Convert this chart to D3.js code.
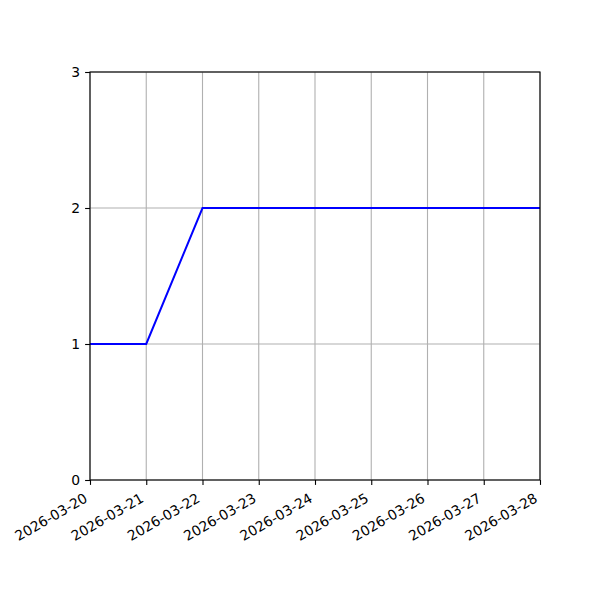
<!DOCTYPE html>
<html>
<head>
<meta charset="utf-8">
<script src="https://cdn.jsdelivr.net/npm/d3@7"></script>
<style>
  body { margin: 0; background: #fff; }
  svg { font-family: "DejaVu Sans", sans-serif; }
</style>
</head>
<body>
<div id="chart"></div>
<script>
// data
const dates = ["2026-03-20", "2026-03-21", "2026-03-22", "2026-03-23", "2026-03-24",
               "2026-03-25", "2026-03-26", "2026-03-27", "2026-03-28"];
const values = [1, 1, 2, 2, 2, 2, 2, 2, 2];
const yTicks = [0, 1, 2, 3];

const parse = d3.timeParse("%Y-%m-%d");
const fmt = d3.timeFormat("%Y-%m-%d");

const margin = {top: 72, right: 60, bottom: 120, left: 90};
const width = 600 - margin.left - margin.right;
const height = 600 - margin.top - margin.bottom;

const svg = d3.select("#chart")
    .append("svg")
    .attr("width", 600)
    .attr("height", 600)
    .append("g")
    .attr("transform", `translate(${margin.left},${margin.top})`);

const points = dates.map((d, i) => ({date: parse(d), value: values[i]}));

const xScale = d3.scaleTime()
    .domain(d3.extent(points, d => d.date))
    .range([0, width]);

const yScale = d3.scaleLinear()
    .domain([0, 3])
    .range([height, 0]);

// grid
svg.append("g")
    .selectAll("line")
    .data(points)
    .enter()
    .append("line")
    .attr("x1", d => xScale(d.date))
    .attr("x2", d => xScale(d.date))
    .attr("y1", 0)
    .attr("y2", height)
    .style("stroke", "#b0b0b0")
    .style("stroke-width", 1.1);

svg.append("g")
    .selectAll("line")
    .data(yTicks)
    .enter()
    .append("line")
    .attr("x1", 0)
    .attr("x2", width)
    .attr("y1", d => yScale(d))
    .attr("y2", d => yScale(d))
    .style("stroke", "#b0b0b0")
    .style("stroke-width", 1.1);

// line
const line = d3.line()
    .x(d => xScale(d.date))
    .y(d => yScale(d.value));

svg.append("path")
    .datum(points)
    .attr("d", line)
    .style("fill", "none")
    .style("stroke", "blue")
    .style("stroke-width", 2);

// frame
svg.append("rect")
    .attr("width", width)
    .attr("height", height)
    .style("fill", "none")
    .style("stroke", "#000")
    .style("stroke-width", 1.1);

// axes
const xAxis = svg.append("g")
    .attr("transform", `translate(0,${height})`)
    .call(d3.axisBottom(xScale)
        .tickValues(points.map(d => d.date))
        .tickFormat(fmt)
        .tickSize(4.9)
        .tickPadding(4.9));

xAxis.selectAll(".tick line").style("stroke-width", 1.1);

xAxis.selectAll("text")
    .style("font-size", "13.9px")
    .style("font-family", "DejaVu Sans")
    .attr("text-anchor", "end")
    .attr("x", 0)
    .attr("y", 0)
    .attr("dy", 0)
    .attr("transform", "translate(-2,21) rotate(-30)");

const yAxis = svg.append("g")
    .call(d3.axisLeft(yScale)
        .tickValues(yTicks)
        .tickFormat(d3.format("d"))
        .tickSize(4.9)
        .tickPadding(4.9));

yAxis.selectAll(".tick line").style("stroke-width", 1.1);

yAxis.selectAll("text")
    .style("font-size", "13.9px")
    .style("font-family", "DejaVu Sans");

svg.selectAll(".domain").remove();
</script>
</body>
</html>
